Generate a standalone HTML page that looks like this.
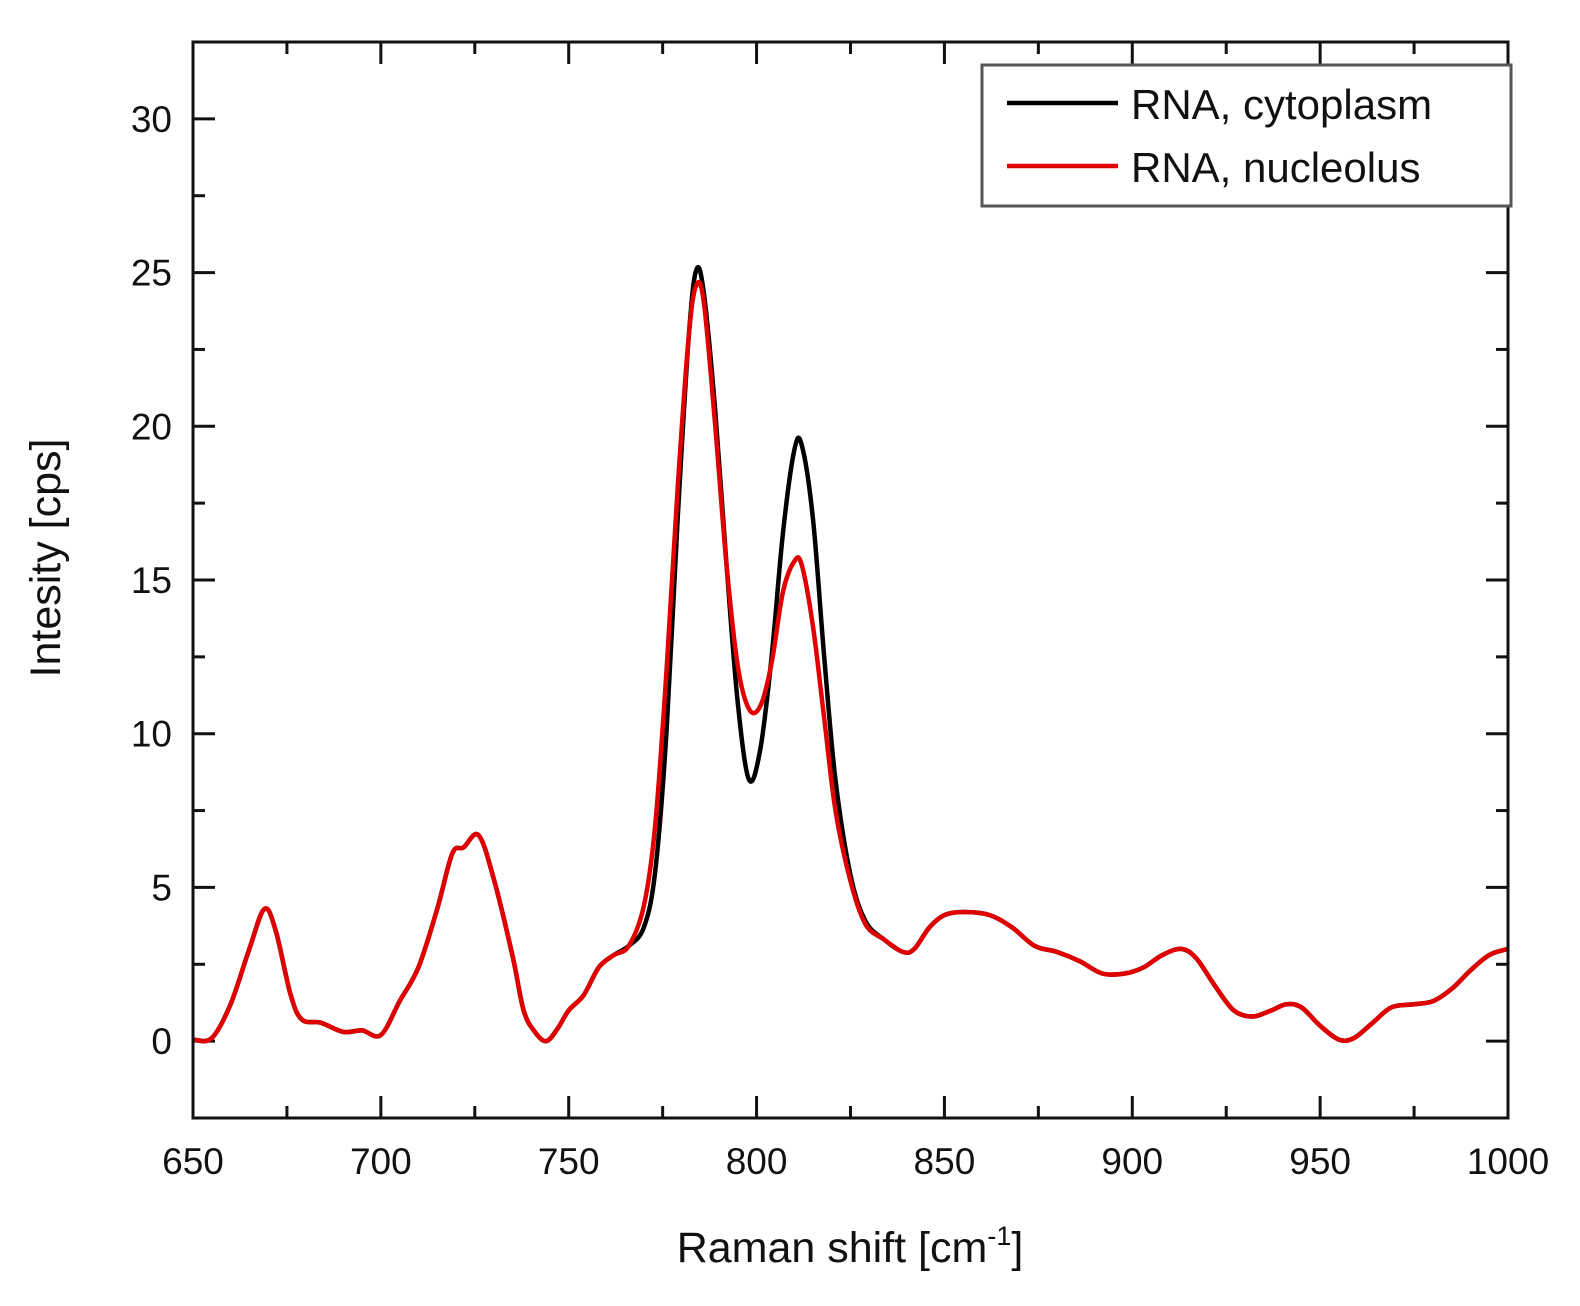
<!DOCTYPE html>
<html><head><meta charset="utf-8"><style>
body{margin:0;background:#fff}
text{font-family:"Liberation Sans",sans-serif;fill:#111}
</style></head><body>
<svg id="chart" width="1580" height="1301" viewBox="0 0 1580 1301" xmlns="http://www.w3.org/2000/svg">
<g id="plot"></g>
</svg>
<script>
const xTicks=[650,700,750,800,850,900,950,1000];
const yTicks=[0,5,10,15,20,25,30];
const shift=[650,655,660,665,669,672,676,679,684,690,695,700,705,710,715,719,722,726,730,735,738,741,744,747,750,754,758,762,766,770,773,776,779,782,784,786,789,792,795,798,801,804,807,810,812,815,818,821,825,829,834,839,842,846,850,855,862,868,874,880,886,892,898,903,908,913,917,922,927,932,937,941,945,950,955,959,964,969,975,980,985,990,995,1000];
const nucleolus=[0.05,0.1,1.2,3.0,4.3,3.6,1.5,0.7,0.6,0.3,0.35,0.2,1.3,2.4,4.3,6.1,6.3,6.7,5.3,2.8,1.0,0.3,0.0,0.4,1.0,1.5,2.4,2.8,3.1,4.4,7.0,12,18,23,24.6,24,20,15.5,12.2,10.8,10.9,12.3,14.6,15.6,15.5,13.5,10.5,7.5,5.2,3.8,3.3,2.9,3.0,3.7,4.1,4.2,4.1,3.7,3.1,2.9,2.6,2.2,2.2,2.4,2.8,3.0,2.7,1.8,1.0,0.8,1.0,1.2,1.1,0.5,0.05,0.1,0.6,1.1,1.2,1.3,1.7,2.3,2.8,3.0];
const cytoplasm=[0.05,0.1,1.2,3.0,4.3,3.6,1.5,0.7,0.6,0.3,0.35,0.2,1.3,2.4,4.3,6.1,6.3,6.7,5.3,2.8,1.0,0.3,0.0,0.4,1.0,1.5,2.4,2.8,3.1,3.7,5.5,10,17,23,25.1,24.3,20.5,15.5,11,8.5,9.5,12.5,16.5,19.2,19.4,17.0,12.5,8.5,5.4,3.9,3.3,2.9,3.0,3.7,4.1,4.2,4.1,3.7,3.1,2.9,2.6,2.2,2.2,2.4,2.8,3.0,2.7,1.8,1.0,0.8,1.0,1.2,1.1,0.5,0.05,0.1,0.6,1.1,1.2,1.3,1.7,2.3,2.8,3.0];
const L=193,R=1508,T=42,B=1118,xmin=650,xmax=1000,ymin=-2.5,ymax=32.5;
const sx=v=>L+(v-xmin)/(xmax-xmin)*(R-L);
const sy=v=>B-(v-ymin)/(ymax-ymin)*(B-T);
const g=document.getElementById('plot');
const NS='http://www.w3.org/2000/svg';
function mk(t,a){const e=document.createElementNS(NS,t);for(const k in a)e.setAttribute(k,a[k]);g.appendChild(e);return e;}
function path(xs,ys){const p=xs.map((x,i)=>[sx(x),sy(ys[i])]);let d='M'+p[0][0]+','+p[0][1];
for(let i=0;i<p.length-1;i++){const p0=p[Math.max(i-1,0)],p1=p[i],p2=p[i+1],p3=p[Math.min(i+2,p.length-1)];
d+=' C'+(p1[0]+(p2[0]-p0[0])/6)+','+(p1[1]+(p2[1]-p0[1])/6)+' '+(p2[0]-(p3[0]-p1[0])/6)+','+(p2[1]-(p3[1]-p1[1])/6)+' '+p2[0]+','+p2[1];}return d;}
for(let v=xmin;v<=xmax;v+=25){const major=v%50===0,len=major?22:12;
let e=mk('line',{x1:sx(v),x2:sx(v),y1:B,y2:B-len,stroke:'#111','stroke-width':3});

e=mk('line',{x1:sx(v),x2:sx(v),y1:T,y2:T+len,stroke:'#111','stroke-width':3});
}
for(let v=-2.5;v<=32.5;v+=2.5){if(v<=ymin||v>=ymax)continue;const major=Math.abs(v%5)<1e-9,len=major?22:12;
let e=mk('line',{x1:L,x2:L+len,y1:sy(v),y2:sy(v),stroke:'#111','stroke-width':3});

e=mk('line',{x1:R,x2:R-len,y1:sy(v),y2:sy(v),stroke:'#111','stroke-width':3});
}
xTicks.forEach(v=>{const e=mk('text',{x:sx(v),y:1174,'text-anchor':'middle','font-size':37});e.textContent=v;
});
yTicks.forEach(v=>{const e=mk('text',{x:172,y:sy(v)+13,'text-anchor':'end','font-size':37});e.textContent=v;
});
let c=mk('path',{d:path(shift,cytoplasm),fill:'none',stroke:'#000','stroke-width':4.5});

c=mk('path',{d:path(shift,nucleolus),fill:'none',stroke:'#e00000','stroke-width':4.5});

let f=mk('rect',{x:L,y:T,width:R-L,height:B-T,fill:'none',stroke:'#111','stroke-width':3});

</script>
<svg style="position:absolute;left:0;top:0" width="1580" height="1301">
<g>
<rect x="982" y="65" width="529" height="141" fill="#fff" stroke="#555" stroke-width="3"/>
<line x1="1007" y1="103" x2="1118" y2="103" stroke="#000" stroke-width="4.5"/>
<text x="1131" y="119" font-size="42">RNA, cytoplasm</text>
<line x1="1007" y1="166" x2="1118" y2="166" stroke="#e00000" stroke-width="4.5"/>
<text x="1131" y="182" font-size="42">RNA, nucleolus</text>
</g>
<text x="850" y="1262" font-size="43" text-anchor="middle">Raman shift [cm<tspan dy="-17" font-size="27">-1</tspan><tspan dy="17">]</tspan></text>
<text transform="translate(60,558) rotate(-90)" font-size="43" text-anchor="middle">Intesity [cps]</text>
</svg>
</body></html>
